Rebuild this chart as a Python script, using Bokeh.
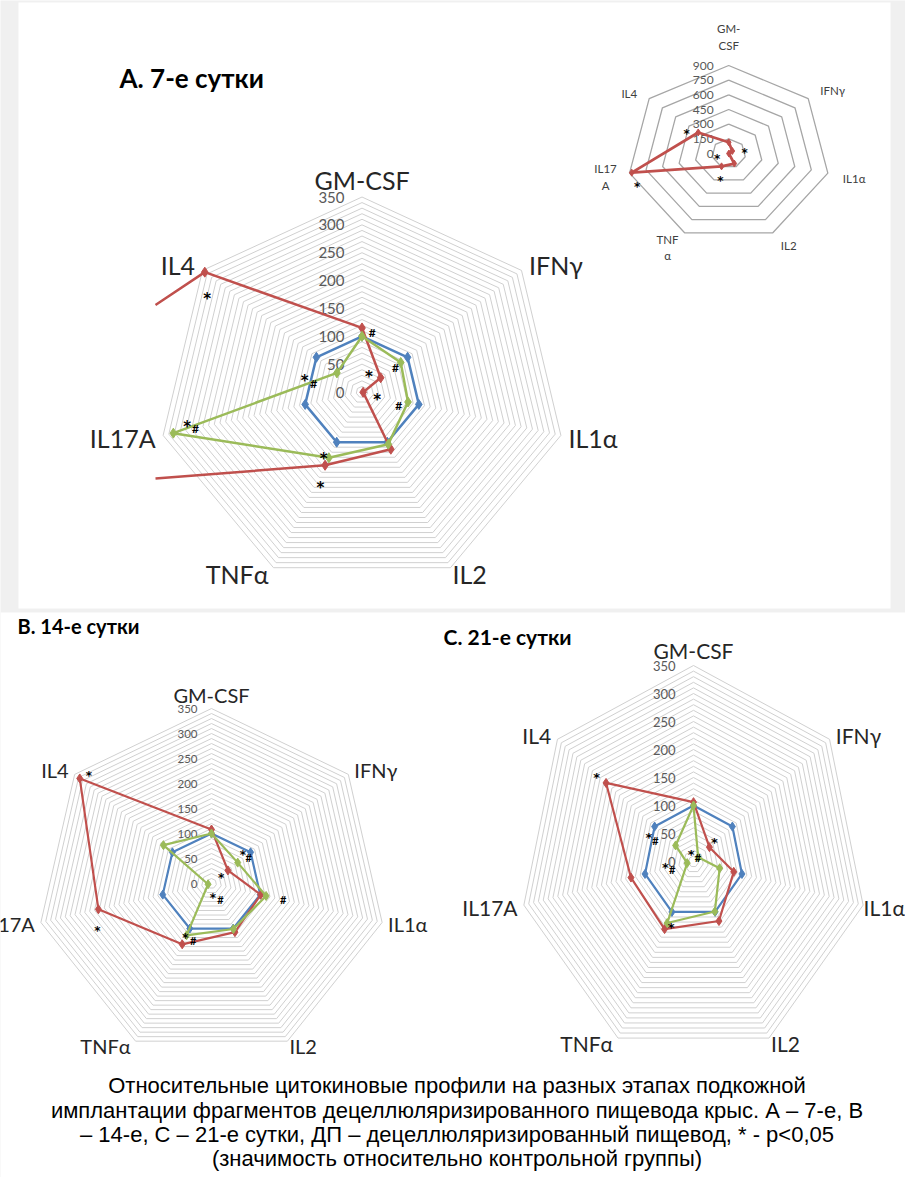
import numpy as np
from bokeh.plotting import figure
from bokeh.models import Range1d
from bokeh.core.properties import value
from bokeh.embed import file_html
from bokeh.resources import INLINE

# ---------------- data ----------------
cytokines = ["GM-CSF", "IFNγ", "IL1α", "IL2", "TNFα", "IL17A", "IL4"]
inset_cytokines = ["GM-\nCSF", "IFNγ", "IL1α", "IL2", "TNF\nα", "IL17\nA", "IL4"]

ticks_main = [0, 50, 100, 150, 200, 250, 300, 350]
ticks_inset = [0, 150, 300, 450, 600, 750, 900]

# Day 7 (A)
day7_control = [100, 100, 100, 100, 100, 100, 100]
day7_dp = [115, 41, 2, 114, 146, 880, 345]
day7_green = [100, 85, 81, 104, 131, 332, 55]

# Day 14 (B)
day14_control = [100, 100, 100, 100, 100, 100, 100]
day14_dp = [108, 42, 101, 108, 135, 232, 337]
day14_green = [100, 67, 112, 101, 115, 7, 123]

# Day 21 (C)
day21_control = [100, 100, 100, 100, 100, 100, 100]
day21_dp = [106, 41, 83, 118, 134, 129, 225]
day21_green = [100, 12, 54, 99, 122, 13, 46]

# significance marks (symbol, polar angle in degrees, radial value)
day7_mark_sym = ["#", "*", "*", "*", "#", "#", "*", "#", "*", "#", "*", "*"]
day7_mark_ang = [80.7, 146.6, 70.9, -13.6, 37.7, -21.0, 164.9, 169.2, 190.6, 193.0, 239.7, 246.6]
day7_mark_val = [108.7, 318, 35.7, 26.8, 72.7, 67.6, 102, 84.2, 305, 293, 130, 179.5]

inset_mark_sym = ["*", "*", "*", "*", "*"]
inset_mark_ang = [147.8, 16.3, 191.0, 253.3, 200.6]
inset_mark_val = [441, 146, 104, 253, 865]

day14_mark_sym = ["*", "*", "#", "*", "*", "#", "#", "*", "*", "#"]
day14_mark_ang = [138.0, 45.9, 35.2, 41.9, -83.3, -61.1, -12.6, 201.2, 243.1, 252.2]
day14_mark_val = [330, 90, 91.3, 26, 22.2, 37.2, 147, 245, 115, 119.7]

day21_mark_sym = ["*", "*", "*", "#", "*", "#", "*", "#", "*"]
day21_mark_ang = [141.2, 43.8, 151.2, 153.9, 104.0, 37.0, 184.2, 199.0, 248.0]
day21_mark_val = [250, 58.5, 102.6, 85, 19, 10.9, 56.5, 45.3, 120]

titles = ["A. 7-е сутки", "B. 14-е сутки", "C. 21-е сутки"]
caption_lines = [
    "Относительные цитокиновые профили на разных этапах подкожной",
    "имплантации фрагментов децеллюляризированного пищевода крыс. А – 7-е, В",
    "– 14-е, С – 21-е сутки, ДП – децеллюляризированный пищевод, * - р<0,05",
    "(значимость относительно контрольной группы)",
]

# ---------------- style / layout ----------------
BLUE, RED, GREEN = "#4f81bd", "#c0504d", "#9bbb59"
GRID = "#d0d0d0"
BG = "#f0f0f0"
FONT = "Lato"

GA = dict(cx=361.5, cy=391.5, rx=204, ry=195, vmax=350, step=10, xmin=155)
GI = dict(cx=728.2, cy=153, rx=101.7, ry=88, vmax=900, step=150, xmin=None)
GB = dict(cx=211, cy=883, rx=175, ry=175, vmax=350, step=10, xmin=None)
GC = dict(cx=693, cy=861, rx=174, ry=196, vmax=350, step=10, xmin=None)

W, H = 905, 1177
p = figure(width=W, height=H, x_range=Range1d(0, W), y_range=Range1d(H, 0),
           output_backend="svg", toolbar_location=None, min_border=0)
p.axis.visible = False
p.grid.visible = False
p.outline_line_color = None
p.background_fill_color = BG
p.border_fill_color = BG

# panels
p.quad(left=[18], right=[890], top=[2], bottom=[608], fill_color="white", line_color=None)
p.quad(left=[0], right=[913], top=[612], bottom=[1185], fill_color="white", line_color=None)


def vertex_xy(g, vals):
    th = np.deg2rad(90 - np.arange(7) * 360 / 7)
    r = np.asarray(vals, float) / g["vmax"]
    return g["cx"] + g["rx"] * r * np.cos(th), g["cy"] - g["ry"] * r * np.sin(th)


def polar_xy(g, ang, vals):
    th = np.deg2rad(np.asarray(ang, float))
    r = np.asarray(vals, float) / g["vmax"]
    return g["cx"] + g["rx"] * r * np.cos(th), g["cy"] - g["ry"] * r * np.sin(th)


def clip_left(xs, ys, xmin):
    """Split a polyline into pieces lying at x >= xmin (chart plot-area clip)."""
    pieces, cx_, cy_ = [], [], []
    for i in range(len(xs) - 1):
        x0, y0, x1, y1 = xs[i], ys[i], xs[i + 1], ys[i + 1]
        in0, in1 = x0 >= xmin, x1 >= xmin
        if in0 and in1:
            if not cx_:
                cx_, cy_ = [x0], [y0]
            cx_.append(x1); cy_.append(y1)
        elif in0 and not in1:
            t = (xmin - x0) / (x1 - x0)
            if not cx_:
                cx_, cy_ = [x0], [y0]
            cx_.append(xmin); cy_.append(y0 + t * (y1 - y0))
            pieces.append((cx_, cy_)); cx_, cy_ = [], []
        elif (not in0) and in1:
            t = (xmin - x0) / (x1 - x0)
            cx_, cy_ = [xmin, x1], [y0 + t * (y1 - y0), y1]
    if cx_:
        pieces.append((cx_, cy_))
    return pieces


def rings(g, color, width):
    xs, ys = [], []
    for v in np.arange(g["step"], g["vmax"] + 1e-9, g["step"]):
        x, y = vertex_xy(g, [v] * 7)
        xs.append(list(x) + [x[0]])
        ys.append(list(y) + [y[0]])
    p.multi_line(xs, ys, line_color=color, line_width=width)


def tick_labels(g, ticks, off, fs):
    y = [g["cy"] - g["ry"] * t / g["vmax"] for t in ticks]
    p.text([g["cx"] - off] * len(ticks), y, text=[str(t) for t in ticks],
           text_font=value(FONT), text_font_size=f"{fs}px", text_color="#595959",
           text_align="right", text_baseline="middle")


def series(g, vals, color, lw, ms):
    x, y = vertex_xy(g, vals)
    lx, ly = list(np.append(x, x[0])), list(np.append(y, y[0]))
    if g["xmin"] is None:
        p.line(lx, ly, line_color=color, line_width=lw, line_join="round")
        keep = np.ones(len(x), bool)
    else:
        pieces = clip_left(lx, ly, g["xmin"])
        p.multi_line([a for a, _ in pieces], [b for _, b in pieces], line_color=color,
                     line_width=lw, line_join="round")
        keep = x >= g["xmin"]
    p.scatter(x[keep], y[keep], marker="diamond", size=ms, fill_color=color,
              line_color=color)


def axis_labels(g, names, fs, side_gap=0.3):
    vx, vy = vertex_xy(g, [g["vmax"]] * 7)
    spec = [
        ("center", "alphabetic", 0, -0.7 * fs),
        ("left", "middle", 0.3 * fs, -0.2 * fs),
        ("left", "middle", side_gap * fs, 0.1 * fs),
        ("left", "middle", 2, 0.25 * fs),
        ("right", "middle", -5, 0.25 * fs),
        ("right", "middle", -0.3 * fs, 0.1 * fs),
        ("right", "middle", -0.3 * fs, -0.2 * fs),
    ]
    for k, (al, bl, dx, dy) in enumerate(spec):
        p.text([vx[k] + dx], [vy[k] + dy], text=[names[k]], text_font=value(FONT),
               text_font_size=f"{fs}px", text_color="#262626", text_align=al,
               text_baseline=bl)


def marks(g, syms, ang, vals, fs_star, fs_hash):
    x, y = polar_xy(g, ang, vals)
    for s, xi, yi in zip(syms, x, y):
        if s == "*":
            p.text([xi], [yi], text=[s], text_font=value("DejaVu Sans"),
                   text_font_size=f"{fs_star}px", text_font_style="bold",
                   text_color="black", text_align="center", text_baseline="middle",
                   y_offset=0.28 * fs_star)
        else:
            p.text([xi], [yi], text=[s], text_font=value(FONT),
                   text_font_size=f"{fs_hash}px", text_font_style="bold",
                   text_color="black", text_align="center", text_baseline="middle")


# grids
rings(GA, GRID, 1)
rings(GB, GRID, 1)
rings(GC, GRID, 1)
rings(GI, "#a6a6a6", 1.3)

# tick labels
tick_labels(GA, ticks_main, 17.5, 15)
tick_labels(GB, ticks_main, 14, 11.5)
tick_labels(GC, ticks_main, 18, 13)
tick_labels(GI, ticks_inset, 15, 12)

# series
series(GA, day7_control, BLUE, 2.5, 10)
series(GA, day7_dp, RED, 2.5, 10)
series(GA, day7_green, GREEN, 2.5, 10)

series(GI, day7_dp, RED, 2.8, 7)

series(GB, day14_control, BLUE, 2.2, 9)
series(GB, day14_dp, RED, 2.2, 9)
series(GB, day14_green, GREEN, 2.2, 9)

series(GC, day21_control, BLUE, 2.2, 9)
series(GC, day21_dp, RED, 2.2, 9)
series(GC, day21_green, GREEN, 2.2, 9)

# axis labels
axis_labels(GA, cytokines, 25)
axis_labels(GB, cytokines, 20)
axis_labels(GC, cytokines, 21, side_gap=0.02)

# inset labels
ivx, ivy = vertex_xy(GI, [GI["vmax"]] * 7)
inset_spec = [
    ("center", "bottom", 0, -14),
    ("left", "middle", 12, -8),
    ("left", "middle", 15, 5),
    ("left", "middle", 8, 13),
    ("center", "top", -17, 0),
    ("center", "middle", -24, 4),
    ("right", "middle", -12, -5.5),
]
for k, (al, bl, dx, dy) in enumerate(inset_spec):
    p.text([ivx[k] + dx], [ivy[k] + dy], text=[inset_cytokines[k]], text_font=value(FONT),
           text_font_size="11.5px", text_color="#404040", text_align=al, text_baseline=bl,
           text_line_height=1.25)

# significance marks
marks(GA, day7_mark_sym, day7_mark_ang, day7_mark_val, 15, 12)
marks(GI, inset_mark_sym, inset_mark_ang, inset_mark_val, 12, 10)
marks(GB, day14_mark_sym, day14_mark_ang, day14_mark_val, 12, 11)
marks(GC, day21_mark_sym, day21_mark_ang, day21_mark_val, 13, 11)

# titles
for t, x, y, fs in zip(titles, [119, 17, 443], [77, 625, 636], [26, 20, 21]):
    p.text([x], [y], text=[t], text_font=value(FONT), text_font_size=f"{fs}px",
           text_font_style="bold", text_color="black", text_align="left",
           text_baseline="middle")

# caption
cap_y = [1085, 1110, 1134, 1158]
p.text([456.5] * 4, cap_y, text=caption_lines, text_font=value("Liberation Sans"),
       text_font_size="22px", text_color="black", text_align="center",
       text_baseline="middle")

open("out.html", "w").write(file_html(p, INLINE))
